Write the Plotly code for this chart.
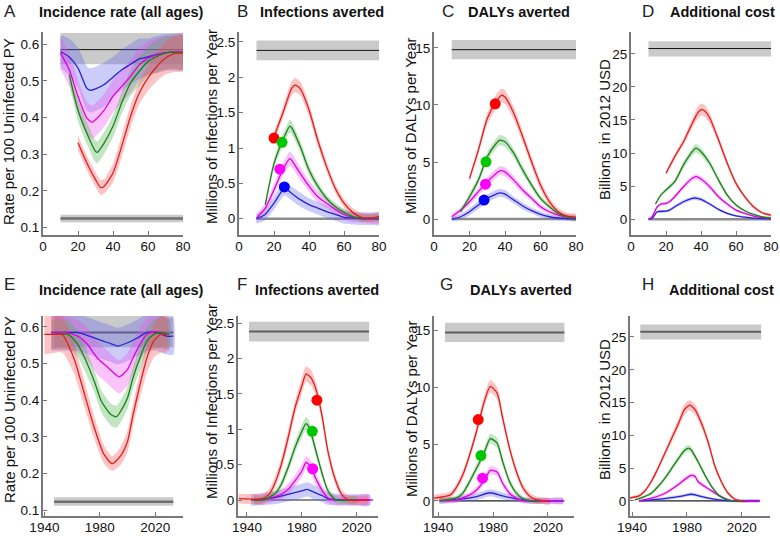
import plotly.graph_objects as go

# ---------------- DATA ----------------
# Panel A: incidence rate (per 100 uninfected PY)
A_x_red = [20, 25, 30, 33, 35, 40, 45, 50, 55, 60, 65, 70, 75, 80]
A_red = [0.331, 0.277, 0.231, 0.209, 0.213, 0.249, 0.322, 0.403, 0.467, 0.508, 0.539, 0.562, 0.574, 0.576]
A_red_e = [0.02, 0.02, 0.02, 0.02, 0.02, 0.025, 0.03, 0.03, 0.03, 0.035, 0.04, 0.045, 0.05, 0.05]
A_x_grn = [15, 20, 25, 30, 31, 35, 40, 45, 50, 55, 60, 65, 70, 75, 80]
A_grn = [0.517, 0.42, 0.358, 0.308, 0.305, 0.331, 0.376, 0.44, 0.494, 0.526, 0.553, 0.566, 0.576, 0.578, 0.576]
A_grn_e = [0.025, 0.03, 0.03, 0.03, 0.03, 0.03, 0.03, 0.03, 0.035, 0.04, 0.04, 0.045, 0.045, 0.045, 0.045]
A_x_mag = [10, 15, 20, 25, 28, 30, 35, 40, 45, 50, 55, 60, 65, 70, 75, 80]
A_mag = [0.576, 0.53, 0.458, 0.399, 0.387, 0.394, 0.42, 0.458, 0.485, 0.512, 0.544, 0.562, 0.571, 0.576, 0.578, 0.578]
A_mag_e = [0.045, 0.045, 0.045, 0.045, 0.045, 0.045, 0.045, 0.045, 0.045, 0.045, 0.045, 0.045, 0.045, 0.045, 0.045, 0.045]
A_x_blu = [10, 15, 20, 25, 27, 30, 35, 40, 45, 50, 55, 60, 65, 70, 75, 80]
A_blu = [0.58, 0.565, 0.535, 0.48, 0.474, 0.478, 0.49, 0.51, 0.53, 0.545, 0.56, 0.565, 0.572, 0.577, 0.578, 0.578]
A_blu_e = [0.045, 0.05, 0.055, 0.06, 0.06, 0.06, 0.06, 0.055, 0.055, 0.055, 0.055, 0.05, 0.05, 0.05, 0.05, 0.05]

# Panel B: infections averted (millions / year)
B_x_red = [20, 25, 30, 32, 35, 40, 45, 50, 55, 60, 65, 70, 75, 80]
B_red = [1.16, 1.49, 1.84, 1.89, 1.84, 1.54, 1.11, 0.74, 0.43, 0.22, 0.09, 0.02, 0.01, 0.03]
B_red_e = [0.06, 0.08, 0.1, 0.1, 0.1, 0.09, 0.08, 0.07, 0.06, 0.06, 0.06, 0.06, 0.06, 0.06]
B_x_grn = [15, 20, 25, 29, 30, 35, 40, 45, 50, 55, 60, 65, 70, 75, 80]
B_grn = [0.2, 0.78, 1.11, 1.31, 1.29, 1.02, 0.69, 0.46, 0.29, 0.17, 0.09, 0.03, 0.01, 0.01, 0.01]
B_grn_e = [0.05, 0.07, 0.08, 0.09, 0.09, 0.08, 0.07, 0.06, 0.05, 0.05, 0.05, 0.05, 0.05, 0.05, 0.05]
B_x_mag = [10, 15, 20, 25, 29, 30, 35, 40, 45, 50, 55, 60, 65, 70, 75, 80]
B_mag = [0.01, 0.15, 0.41, 0.69, 0.85, 0.83, 0.64, 0.46, 0.31, 0.22, 0.13, 0.06, 0.02, 0.01, 0.0, 0.0]
B_mag_e = [0.06, 0.07, 0.08, 0.09, 0.1, 0.1, 0.09, 0.08, 0.08, 0.07, 0.07, 0.07, 0.07, 0.07, 0.07, 0.07]
B_x_blu = [10, 15, 20, 26, 30, 35, 40, 45, 50, 55, 60, 65, 70, 75, 80]
B_blu = [0.0, 0.06, 0.22, 0.43, 0.36, 0.27, 0.2, 0.15, 0.1, 0.06, 0.02, 0.01, 0.0, 0.0, 0.0]
B_blu_e = [0.07, 0.08, 0.09, 0.1, 0.1, 0.1, 0.09, 0.09, 0.09, 0.09, 0.09, 0.09, 0.09, 0.09, 0.09]

# Panel C: DALYs averted (millions / year)
C_x_red = [20, 25, 30, 35, 38, 40, 45, 50, 55, 60, 65, 70, 75, 80]
C_red = [3.56, 6.04, 8.81, 10.3, 10.85, 10.7, 9.25, 7.2, 5.0, 2.98, 1.52, 0.64, 0.26, 0.15]
C_red_e = [0.3, 0.4, 0.5, 0.6, 0.6, 0.6, 0.55, 0.5, 0.45, 0.4, 0.35, 0.3, 0.3, 0.3]
C_x_grn = [15, 20, 25, 30, 35, 37, 40, 45, 50, 55, 60, 65, 70, 75, 80]
C_grn = [0.64, 1.95, 3.41, 5.46, 6.62, 6.92, 6.77, 5.75, 4.29, 2.98, 1.81, 1.08, 0.5, 0.2, 0.06]
C_grn_e = [0.2, 0.3, 0.35, 0.4, 0.45, 0.45, 0.45, 0.4, 0.35, 0.3, 0.25, 0.2, 0.2, 0.2, 0.2]
C_x_mag = [10, 15, 20, 25, 30, 35, 37, 40, 45, 50, 55, 60, 65, 70, 75, 80]
C_mag = [0.2, 0.79, 1.52, 2.4, 3.27, 4.0, 4.23, 4.14, 3.41, 2.54, 1.81, 1.08, 0.64, 0.35, 0.2, 0.15]
C_mag_e = [0.2, 0.25, 0.3, 0.35, 0.4, 0.4, 0.4, 0.4, 0.35, 0.3, 0.25, 0.25, 0.2, 0.2, 0.2, 0.2]
C_x_blu = [10, 15, 20, 25, 30, 35, 37, 40, 45, 50, 55, 60, 65, 70, 75, 80]
C_blu = [0.0, 0.2, 0.64, 1.23, 1.81, 2.19, 2.3, 2.19, 1.66, 1.14, 0.73, 0.41, 0.2, 0.09, 0.03, 0.0]
C_blu_e = [0.2, 0.25, 0.3, 0.35, 0.35, 0.35, 0.35, 0.35, 0.3, 0.3, 0.25, 0.25, 0.2, 0.2, 0.2, 0.2]

# Panel D: additional cost (billions 2012 USD)
D_x_red = [20, 25, 30, 35, 38, 40, 42, 45, 50, 55, 60, 65, 70, 75, 80]
D_red = [6.93, 9.46, 11.7, 14.5, 16.0, 16.55, 16.4, 15.3, 12.0, 8.45, 5.4, 3.39, 1.87, 0.96, 0.6]
D_red_e = [0.3, 0.4, 0.5, 0.7, 0.9, 0.9, 0.9, 0.8, 0.6, 0.5, 0.4, 0.3, 0.25, 0.2, 0.2]
D_x_grn = [14, 17, 20, 25, 30, 35, 37, 40, 45, 50, 55, 60, 65, 70, 75, 80]
D_grn = [2.28, 3.64, 4.4, 5.67, 8.2, 10.2, 10.73, 10.2, 8.45, 5.92, 3.64, 2.13, 1.27, 0.71, 0.35, 0.15]
D_grn_e = [0.2, 0.25, 0.3, 0.35, 0.5, 0.6, 0.65, 0.6, 0.5, 0.4, 0.3, 0.25, 0.2, 0.15, 0.15, 0.15]
D_x_mag = [10, 12, 15, 17, 20, 22, 25, 30, 35, 37, 40, 45, 50, 55, 60, 65, 70, 75, 80]
D_mag = [0.0, 0.35, 1.87, 2.28, 2.38, 2.63, 3.39, 4.9, 6.17, 6.43, 6.07, 4.9, 3.39, 2.28, 1.37, 0.86, 0.46, 0.25, 0.15]
D_mag_e = [0.15, 0.2, 0.2, 0.25, 0.25, 0.25, 0.3, 0.35, 0.4, 0.4, 0.4, 0.35, 0.3, 0.25, 0.2, 0.15, 0.15, 0.15, 0.15]
D_x_blu = [10, 12, 15, 20, 22, 25, 30, 35, 37, 40, 45, 50, 55, 60, 65, 70, 75, 80]
D_blu = [0.0, 0.1, 1.11, 1.21, 1.37, 1.87, 2.63, 3.14, 3.19, 2.99, 2.28, 1.47, 0.86, 0.5, 0.3, 0.15, 0.08, 0.05]
D_blu_e = [0.15, 0.15, 0.2, 0.2, 0.2, 0.25, 0.3, 0.3, 0.3, 0.3, 0.25, 0.2, 0.2, 0.15, 0.15, 0.15, 0.15, 0.15]

# Panel E: incidence rate by calendar year
E_x_red = [1940, 1948, 1953, 1957, 1962, 1969, 1976, 1983, 1989, 1995, 2000, 2004, 2009, 2014, 2019, 2024, 2028]
E_red = [0.58, 0.58, 0.58, 0.553, 0.507, 0.416, 0.325, 0.252, 0.227, 0.248, 0.288, 0.361, 0.443, 0.516, 0.562, 0.58, 0.58]
E_red_e = [0.055, 0.05, 0.05, 0.045, 0.04, 0.035, 0.03, 0.025, 0.02, 0.025, 0.03, 0.03, 0.035, 0.04, 0.045, 0.05, 0.05]
E_x_grn = [1945, 1957, 1964, 1969, 1976, 1981, 1988, 1992, 1995, 2000, 2004, 2009, 2014, 2019, 2024, 2030]
E_grn = [0.58, 0.58, 0.553, 0.516, 0.452, 0.398, 0.361, 0.355, 0.37, 0.407, 0.462, 0.516, 0.562, 0.58, 0.585, 0.58]
E_grn_e = [0.04, 0.04, 0.035, 0.035, 0.03, 0.03, 0.03, 0.03, 0.03, 0.03, 0.03, 0.035, 0.035, 0.04, 0.04, 0.04]
E_x_mag = [1945, 1955, 1964, 1971, 1978, 1986, 1994, 2000, 2004, 2009, 2014, 2019, 2025, 2030]
E_mag = [0.585, 0.585, 0.575, 0.553, 0.516, 0.489, 0.464, 0.484, 0.516, 0.553, 0.58, 0.587, 0.585, 0.58]
E_mag_e = [0.045, 0.045, 0.045, 0.045, 0.045, 0.045, 0.045, 0.045, 0.045, 0.045, 0.045, 0.045, 0.045, 0.045]
E_x_blu = [1945, 1955, 1964, 1976, 1986, 1993, 2000, 2007, 2014, 2021, 2028, 2033]
E_blu = [0.585, 0.585, 0.585, 0.57, 0.557, 0.548, 0.557, 0.57, 0.585, 0.585, 0.575, 0.575]
E_blu_e = [0.05, 0.05, 0.05, 0.05, 0.05, 0.05, 0.05, 0.05, 0.05, 0.05, 0.05, 0.05]

# Panel F: infections averted by year
F_x_red = [1934, 1951, 1956, 1960, 1965, 1970, 1975, 1980, 1983, 1987, 1991, 1995, 1999, 2004, 2009, 2014, 2019, 2028]
F_red = [0.02, 0.02, 0.08, 0.22, 0.5, 0.88, 1.3, 1.61, 1.78, 1.72, 1.52, 1.16, 0.69, 0.31, 0.08, 0.0, -0.01, 0.0]
F_red_e = [0.07, 0.07, 0.07, 0.08, 0.09, 0.1, 0.1, 0.11, 0.11, 0.11, 0.1, 0.09, 0.08, 0.07, 0.06, 0.06, 0.06, 0.06]
F_x_grn = [1945, 1951, 1960, 1965, 1970, 1975, 1980, 1983, 1985, 1987, 1991, 1995, 1999, 2004, 2009, 2014, 2020]
F_grn = [0.0, 0.0, 0.08, 0.22, 0.46, 0.74, 0.97, 1.08, 1.04, 0.93, 0.64, 0.36, 0.13, 0.01, -0.01, 0.0, 0.0]
F_grn_e = [0.05, 0.05, 0.05, 0.06, 0.07, 0.08, 0.09, 0.09, 0.09, 0.08, 0.07, 0.06, 0.05, 0.05, 0.05, 0.05, 0.05]
F_x_mag = [1945, 1951, 1965, 1970, 1975, 1980, 1983, 1986, 1991, 1995, 1999, 2004, 2010, 2020, 2030]
F_mag = [0.0, 0.0, 0.08, 0.15, 0.27, 0.41, 0.53, 0.48, 0.27, 0.13, 0.03, 0.0, 0.0, 0.0, 0.0]
F_mag_e = [0.07, 0.07, 0.07, 0.08, 0.08, 0.09, 0.09, 0.09, 0.08, 0.07, 0.07, 0.07, 0.07, 0.07, 0.07]
F_x_blu = [1943, 1960, 1970, 1980, 1984, 1990, 1995, 1999, 2009, 2020, 2029]
F_blu = [0.0, 0.03, 0.08, 0.13, 0.15, 0.1, 0.06, 0.02, 0.0, 0.0, 0.0]
F_blu_e = [0.08, 0.09, 0.1, 0.1, 0.1, 0.1, 0.09, 0.09, 0.08, 0.08, 0.08]

# Panel G: DALYs averted by year
G_x_red = [1937, 1949, 1953, 1958, 1963, 1968, 1973, 1978, 1983, 1987, 1992, 1997, 2002, 2007, 2012, 2017, 2021]
G_red = [0.24, 0.53, 1.12, 2.3, 4.07, 6.14, 8.5, 10.1, 9.5, 7.32, 4.66, 2.6, 1.12, 0.38, 0.09, 0.0, -0.06]
G_red_e = [0.3, 0.3, 0.3, 0.35, 0.4, 0.45, 0.5, 0.55, 0.55, 0.5, 0.4, 0.35, 0.3, 0.3, 0.3, 0.3, 0.3]
G_x_grn = [1941, 1953, 1958, 1963, 1968, 1973, 1978, 1983, 1987, 1992, 1997, 2002, 2007, 2015]
G_grn = [0.03, 0.24, 0.68, 1.71, 2.89, 4.07, 5.5, 5.1, 3.48, 1.71, 0.68, 0.18, 0.0, 0.0]
G_grn_e = [0.2, 0.2, 0.25, 0.3, 0.35, 0.4, 0.45, 0.45, 0.4, 0.3, 0.25, 0.2, 0.2, 0.2]
G_x_mag = [1941, 1953, 1963, 1968, 1973, 1978, 1983, 1987, 1992, 1997, 2002, 2007, 2020, 2031]
G_mag = [0.0, 0.09, 0.53, 0.97, 1.71, 2.7, 2.54, 1.56, 0.68, 0.24, 0.03, 0.0, 0.0, 0.0]
G_mag_e = [0.25, 0.25, 0.25, 0.3, 0.3, 0.35, 0.35, 0.3, 0.3, 0.25, 0.25, 0.25, 0.25, 0.25]
G_x_blu = [1941, 1958, 1968, 1978, 1987, 1997, 2007, 2020, 2031]
G_blu = [0.0, 0.18, 0.38, 0.72, 0.44, 0.18, 0.03, 0.0, 0.0]
G_blu_e = [0.25, 0.25, 0.3, 0.3, 0.3, 0.25, 0.25, 0.25, 0.25]

# Panel H: additional cost by year
H_x_red = [1937, 1945, 1949, 1954, 1959, 1964, 1969, 1974, 1978, 1982, 1986, 1991, 1996, 2000, 2005, 2010, 2015, 2020, 2022]
H_red = [0.41, 0.77, 1.43, 2.96, 5.0, 7.3, 9.6, 11.9, 13.9, 14.6, 13.9, 11.6, 8.57, 5.51, 2.96, 1.17, 0.26, 0.0, -0.1]
H_red_e = [0.2, 0.25, 0.3, 0.35, 0.4, 0.5, 0.6, 0.7, 0.8, 0.8, 0.8, 0.7, 0.6, 0.5, 0.4, 0.3, 0.2, 0.2, 0.2]
H_x_grn = [1942, 1949, 1954, 1959, 1964, 1969, 1974, 1978, 1981, 1983, 1988, 1993, 1998, 2003, 2008, 2012, 2022]
H_grn = [0.15, 0.66, 1.17, 2.19, 3.47, 5.0, 6.53, 7.65, 8.06, 7.8, 6.02, 3.98, 2.19, 0.92, 0.31, 0.0, 0.0]
H_grn_e = [0.15, 0.2, 0.25, 0.3, 0.35, 0.4, 0.45, 0.5, 0.5, 0.5, 0.45, 0.35, 0.3, 0.25, 0.2, 0.15, 0.15]
H_x_mag = [1945, 1954, 1964, 1974, 1978, 1983, 1986, 1988, 1993, 1998, 2003, 2008, 2012, 2020, 2033]
H_mag = [0.0, 0.41, 1.17, 2.55, 3.21, 3.88, 3.72, 2.96, 2.19, 1.53, 0.82, 0.31, 0.05, 0.0, 0.0]
H_mag_e = [0.15, 0.2, 0.25, 0.3, 0.35, 0.35, 0.35, 0.3, 0.3, 0.25, 0.2, 0.2, 0.15, 0.15, 0.15]
H_x_blu = [1945, 1954, 1969, 1978, 1983, 1988, 1996, 2003, 2012, 2033]
H_blu = [0.0, 0.15, 0.51, 0.82, 1.02, 0.82, 0.41, 0.15, 0.0, 0.0]
H_blu_e = [0.2, 0.2, 0.25, 0.25, 0.25, 0.25, 0.2, 0.2, 0.2, 0.2]

# Highlighted points (dots)
B_dots = {"red": (20, 1.14), "grn": (24.6, 1.08), "mag": (23.3, 0.70), "blu": (25.9, 0.45)}
C_dots = {"red": (34.5, 10.1), "grn": (29.3, 5.02), "mag": (29.0, 3.06), "blu": (28.2, 1.66)}
F_dots = {"red": (1991, 1.41), "grn": (1987.6, 0.97), "mag": (1987.9, 0.44)}
G_dots = {"red": (1969.2, 7.17), "grn": (1971.2, 4.0), "mag": (1972.4, 2.0)}

# Grey reference bands: [low, mid, high] and x extent
A_ref_hi = [0.545, 0.585, 0.63]
A_ref_lo = [0.115, 0.125, 0.135]
E_ref_hi = [0.545, 0.585, 0.63]
E_ref_lo = [0.112, 0.123, 0.135]
B_ref = [2.24, 2.38, 2.52]
C_ref = [14.0, 14.85, 15.7]
D_ref = [24.6, 25.8, 26.9]
top_ref_x = [10, 80]
E_ref_x = [1947, 2033]
F_ref_x = [1941.5, 2029]
G_ref_x = [1945, 2032]
H_ref_x = [1946, 2034]
F_zero_x = [1945, 2032]
G_zero_x = [1945, 2032]
H_zero_x = [1946, 2033]

titles = ["Incidence rate (all ages)", "Infections averted", "DALYs averted", "Additional cost"]
letters = ["A", "B", "C", "D", "E", "F", "G", "H"]
ytitles = ["Rate per 100 Uninfected PY", "Millions of Infections per Year",
           "Millions of DALYs per Year", "Billions  in 2012 USD"]

# ---------------- STYLE ----------------
W, Hh = 780, 536
FONT = "Liberation Sans, Arial, Helvetica, sans-serif"
LINE = {"red": "rgb(226,30,30)", "grn": "rgb(25,130,25)", "mag": "rgb(225,0,225)", "blu": "rgb(35,35,215)"}
FILL = {"red": "rgba(245,85,85,0.35)", "grn": "rgba(70,175,70,0.32)", "mag": "rgba(240,70,240,0.32)", "blu": "rgba(95,95,240,0.32)"}
DOT = {"red": "rgb(255,0,0)", "grn": "rgb(0,200,0)", "mag": "rgb(255,0,255)", "blu": "rgb(0,0,255)"}
AXC = "rgb(120,120,120)"


def fx(p):
    return p / W


def fy(p):
    return 1 - p / Hh


panels = [
    dict(box=(43, 183, 32, 235), xr=[0, 80], yr=[0.08, 0.633], xt=[0, 20, 40, 60, 80],
         yt=[0.1, 0.2, 0.3, 0.4, 0.5, 0.6],
         ser={"blu": (A_x_blu, A_blu, A_blu_e), "mag": (A_x_mag, A_mag, A_mag_e),
              "grn": (A_x_grn, A_grn, A_grn_e), "red": (A_x_red, A_red, A_red_e)},
         refs=[(top_ref_x, A_ref_hi), (top_ref_x, A_ref_lo)], zero=None, dots={}, row=1),
    dict(box=(239, 379, 32, 235), xr=[0, 80], yr=[-0.23, 2.64], xt=[0, 20, 40, 60, 80],
         yt=[0, 0.5, 1, 1.5, 2, 2.5],
         ser={"blu": (B_x_blu, B_blu, B_blu_e), "mag": (B_x_mag, B_mag, B_mag_e),
              "grn": (B_x_grn, B_grn, B_grn_e), "red": (B_x_red, B_red, B_red_e)},
         refs=[(top_ref_x, B_ref)], zero=top_ref_x, dots=B_dots, row=1),
    dict(box=(434, 576, 32, 235), xr=[0, 80], yr=[-1.4, 16.4], xt=[0, 20, 40, 60, 80],
         yt=[0, 5, 10, 15],
         ser={"blu": (C_x_blu, C_blu, C_blu_e), "mag": (C_x_mag, C_mag, C_mag_e),
              "grn": (C_x_grn, C_grn, C_grn_e), "red": (C_x_red, C_red, C_red_e)},
         refs=[(top_ref_x, C_ref)], zero=top_ref_x, dots=C_dots, row=1),
    dict(box=(631, 771, 32, 235), xr=[0, 80], yr=[-2.4, 28.3], xt=[0, 20, 40, 60, 80],
         yt=[0, 5, 10, 15, 20, 25],
         ser={"blu": (D_x_blu, D_blu, D_blu_e), "mag": (D_x_mag, D_mag, D_mag_e),
              "grn": (D_x_grn, D_grn, D_grn_e), "red": (D_x_red, D_red, D_red_e)},
         refs=[(top_ref_x, D_ref)], zero=top_ref_x, dots={}, row=1),
    dict(box=(43, 183, 316, 516), xr=[1939, 2040], yr=[0.084, 0.63], xt=[1940, 1980, 2020],
         yt=[0.1, 0.2, 0.3, 0.4, 0.5, 0.6],
         ser={"blu": (E_x_blu, E_blu, E_blu_e), "mag": (E_x_mag, E_mag, E_mag_e),
              "grn": (E_x_grn, E_grn, E_grn_e), "red": (E_x_red, E_red, E_red_e)},
         refs=[(E_ref_x, E_ref_hi), (E_ref_x, E_ref_lo)], zero=None, dots={}, row=2),
    dict(box=(238, 378, 316, 516), xr=[1933.5, 2035.5], yr=[-0.226, 2.6], xt=[1940, 1980, 2020],
         yt=[0, 0.5, 1, 1.5, 2, 2.5],
         ser={"blu": (F_x_blu, F_blu, F_blu_e), "mag": (F_x_mag, F_mag, F_mag_e),
              "grn": (F_x_grn, F_grn, F_grn_e), "red": (F_x_red, F_red, F_red_e)},
         refs=[(F_ref_x, B_ref)], zero=F_zero_x, dots=F_dots, row=2),
    dict(box=(434, 574, 316, 516), xr=[1937, 2039], yr=[-1.33, 16.3], xt=[1940, 1980, 2020],
         yt=[0, 5, 10, 15],
         ser={"blu": (G_x_blu, G_blu, G_blu_e), "mag": (G_x_mag, G_mag, G_mag_e),
              "grn": (G_x_grn, G_grn, G_grn_e), "red": (G_x_red, G_red, G_red_e)},
         refs=[(G_ref_x, C_ref)], zero=G_zero_x, dots=G_dots, row=2),
    dict(box=(630, 770, 316, 516), xr=[1938.5, 2040.5], yr=[-2.3, 28.2], xt=[1940, 1980, 2020],
         yt=[0, 5, 10, 15, 20, 25],
         ser={"blu": (H_x_blu, H_blu, H_blu_e), "mag": (H_x_mag, H_mag, H_mag_e),
              "grn": (H_x_grn, H_grn, H_grn_e), "red": (H_x_red, H_red, H_red_e)},
         refs=[(H_ref_x, D_ref)], zero=H_zero_x, dots={}, row=2),
]

fig = go.Figure()
layout = {}

for i, p in enumerate(panels):
    n = "" if i == 0 else str(i + 1)
    xa, ya = "x" + n, "y" + n
    x0, x1, y0, y1 = p["box"]
    common = dict(showline=True, linecolor=AXC, linewidth=2, ticks="inside", ticklen=4,
                  tickcolor=AXC, tickwidth=1, showgrid=False, zeroline=False, automargin=False,
                  tickfont=dict(family=FONT, size=13.5, color="#111"))
    layout["xaxis" + n] = dict(domain=[fx(x0), fx(x1)], range=p["xr"], anchor=ya,
                               tickvals=p["xt"], ticklabelstandoff=-2, **common)
    layout["yaxis" + n] = dict(domain=[fy(y1), fy(y0)], range=p["yr"], anchor=xa,
                               tickvals=p["yt"], ticklabelstandoff=-1, **common)
    # grey reference bands
    for rx, rv in p["refs"]:
        lo, mid, hi = rv
        fig.add_trace(go.Scatter(x=[rx[0], rx[1], rx[1], rx[0]], y=[lo, lo, hi, hi], fill="toself",
                                 fillcolor="rgba(150,150,150,0.5)", line=dict(width=0),
                                 mode="lines", xaxis=xa, yaxis=ya, hoverinfo="skip", showlegend=False))
        lc = "rgb(20,20,20)" if p["row"] == 1 else "rgb(95,95,95)"
        lw = 1 if p["row"] == 1 else 2
        if lo < 0.2:
            lc, lw = "rgb(110,110,110)", 2.5
        fig.add_trace(go.Scatter(x=rx, y=[mid, mid], mode="lines", line=dict(color=lc, width=lw),
                                 xaxis=xa, yaxis=ya, hoverinfo="skip", showlegend=False))
    if p["zero"] is not None:
        zc = "rgb(140,140,140)" if p["row"] == 1 else "rgb(30,30,30)"
        zw = 2.5 if p["row"] == 1 else 1.2
        fig.add_trace(go.Scatter(x=p["zero"], y=[0, 0], mode="lines", line=dict(color=zc, width=zw),
                                 xaxis=xa, yaxis=ya, hoverinfo="skip", showlegend=False))
    # uncertainty bands
    for key, (sx, sy, se) in p["ser"].items():
        lo = [a - b for a, b in zip(sy, se)]
        hi = [a + b for a, b in zip(sy, se)]
        fig.add_trace(go.Scatter(x=list(sx) + list(sx)[::-1], y=hi + lo[::-1], fill="toself",
                                 fillcolor=FILL[key], line=dict(width=0, shape="spline", smoothing=0.6),
                                 mode="lines", xaxis=xa, yaxis=ya, hoverinfo="skip", showlegend=False))
    # mean lines
    for key, (sx, sy, se) in p["ser"].items():
        fig.add_trace(go.Scatter(x=sx, y=sy, mode="lines",
                                 line=dict(color=LINE[key], width=1.3, shape="spline", smoothing=0.6),
                                 xaxis=xa, yaxis=ya, hoverinfo="skip", showlegend=False))
    for key, (dx, dy) in p["dots"].items():
        fig.add_trace(go.Scatter(x=[dx], y=[dy], mode="markers",
                                 marker=dict(color=DOT[key], size=11, line=dict(width=0)),
                                 xaxis=xa, yaxis=ya, hoverinfo="skip", showlegend=False))

annotations = []
letter_x = [2, 235, 440, 640]
title_x = [37, 258, 466, 668]
row2_letter_x = [2, 235, 438, 640]
row2_title_x = [37, 253, 468, 667]
row_y = [(11, 12), (284, 290)]
for r in range(2):
    for c in range(4):
        lx = letter_x[c] if r == 0 else row2_letter_x[c]
        tx = title_x[c] if r == 0 else row2_title_x[c]
        ly, ty = row_y[r]
        annotations.append(dict(text=letters[r * 4 + c], x=fx(lx), y=fy(ly), xref="paper", yref="paper",
                                xanchor="left", yanchor="middle", showarrow=False,
                                font=dict(family=FONT, size=17, color="#222")))
        annotations.append(dict(text="<b>" + titles[c] + "</b>", x=fx(tx), y=fy(ty), xref="paper",
                                yref="paper", xanchor="left", yanchor="middle", showarrow=False,
                                font=dict(family=FONT, size=14.5, color="#111")))

ytitle_pos = [[(9, 132), (211, 127), (411, 126), (604, 130)],
              [(9, 410), (211, 402), (411, 409), (604, 410)]]
for r in range(2):
    for c in range(4):
        xx, yy = ytitle_pos[r][c]
        annotations.append(dict(text=ytitles[c], x=fx(xx), y=fy(yy), xref="paper", yref="paper",
                                xanchor="center", yanchor="middle", textangle=-90, showarrow=False,
                                font=dict(family=FONT, size=15, color="#111")))

fig.update_layout(width=W, height=Hh, margin=dict(l=0, r=0, t=0, b=0, autoexpand=False),
                  paper_bgcolor="white", plot_bgcolor="white", showlegend=False,
                  annotations=annotations, **layout)

fig.write_html("out.html", config={"displayModeBar": False},
               post_script="document.body.style.margin='0';document.body.style.overflow='hidden';")
